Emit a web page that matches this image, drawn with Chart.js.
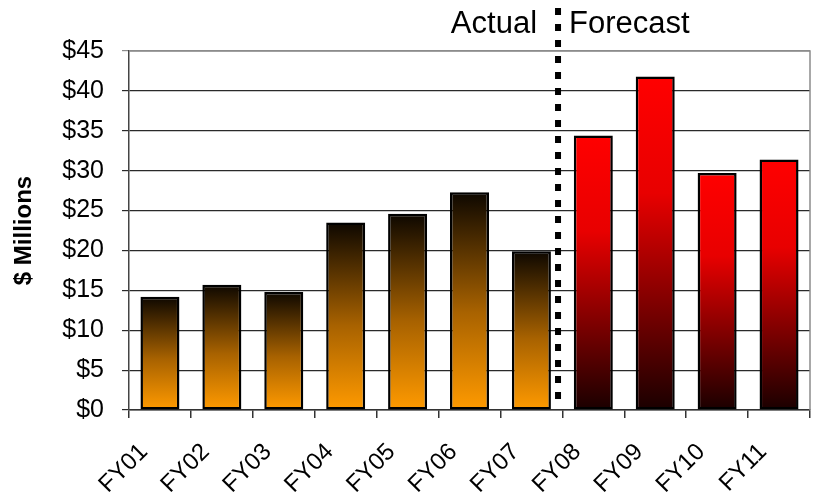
<!DOCTYPE html>
<html>
<head>
<meta charset="utf-8">
<script src="https://cdn.jsdelivr.net/npm/chart.js@4/dist/chart.umd.min.js"></script>
<style>
html,body{margin:0;padding:0;background:#fff;}
#wrap{width:815px;height:495px;position:relative;}
</style>
</head>
<body>
<div id="wrap"><canvas id="c" width="815" height="495"></canvas></div>
<script>
const categories = ['FY01','FY02','FY03','FY04','FY05','FY06','FY07','FY08','FY09','FY10','FY11'];
const values = [14.2, 15.7, 14.8, 23.5, 24.6, 27.3, 19.9, 34.4, 41.8, 29.7, 31.4];
const actualCount = 7;
const yTickLabels = ['$0','$5','$10','$15','$20','$25','$30','$35','$40','$45'];
const yAxisTitle = '$ Millions';
const dividerLabels = ['Actual', 'Forecast'];

const FONT = "'Liberation Sans', Arial, sans-serif";

function barFill(ctx) {
  const chart = ctx.chart;
  const area = chart.chartArea;
  const i = ctx.dataIndex;
  const forecast = i >= actualCount;
  if (!area || ctx.type !== 'data') return forecast ? '#ff0000' : '#ff9900';
  const y = chart.scales.y;
  const top = y.getPixelForValue(values[i]);
  const bot = y.getPixelForValue(0);
  const g = chart.ctx.createLinearGradient(0, top, 0, bot);
  if (forecast) {
    g.addColorStop(0, '#ff0000');
    g.addColorStop(0.35, '#e80000');
    g.addColorStop(1, '#1a0000');
  } else {
    g.addColorStop(0, '#0d0700');
    g.addColorStop(0.55, '#a86200');
    g.addColorStop(1, '#ff9a00');
  }
  return g;
}

const dividerPlugin = {
  id: 'divider',
  afterDatasetsDraw(chart) {
    const {ctx, chartArea, scales} = chart;
    const xs = scales.x;
    const a = xs.getPixelForValue(actualCount - 1);
    const b = xs.getPixelForValue(actualCount);
    const x = a + 0.43 * (b - a);
    ctx.save();
    ctx.strokeStyle = '#8c8c8c';
    ctx.lineWidth = 1.5;
    ctx.beginPath();
    ctx.moveTo(chartArea.left, chartArea.top);
    ctx.lineTo(chartArea.right, chartArea.top);
    ctx.lineTo(chartArea.right, chartArea.bottom);
    ctx.stroke();
    ctx.strokeStyle = '#000';
    ctx.lineWidth = 6;
    ctx.setLineDash([7, 9]);
    ctx.beginPath();
    ctx.moveTo(x, 8);
    ctx.lineTo(x, chartArea.bottom - 4);
    ctx.stroke();
    ctx.setLineDash([]);
    ctx.fillStyle = '#000';
    ctx.font = '31px ' + FONT;
    ctx.textBaseline = 'alphabetic';
    ctx.textAlign = 'right';
    ctx.fillText(dividerLabels[0], x - 21, 33);
    ctx.textAlign = 'left';
    ctx.fillText(dividerLabels[1], x + 11, 33);
    ctx.restore();
  }
};

new Chart(document.getElementById('c'), {
  type: 'bar',
  data: {
    labels: categories,
    datasets: [{
      data: values,
      backgroundColor: barFill,
      borderColor: '#000',
      borderWidth: 2.5,
      borderSkipped: false,
      barPercentage: 0.63,
      categoryPercentage: 1.0
    }]
  },
  options: {
    responsive: false,
    animation: false,
    devicePixelRatio: 1,
    layout: { padding: { top: 51, right: 5, left: 0, bottom: 0 } },
    plugins: { legend: { display: false }, tooltip: { enabled: false } },
    scales: {
      x: {
        offset: true,
        grid: {
          offset: true,
          drawOnChartArea: false,
          drawTicks: true,
          tickLength: 8,
          color: '#333',
          lineWidth: 1.5
        },
        border: { display: true, color: '#333', width: 1.5 },
        ticks: {
          color: '#000',
          font: { family: FONT, size: 24 },
          maxRotation: 45,
          minRotation: 45,
          autoSkip: false,
          padding: 20,
          labelOffset: -16
        },
        afterFit(scale) {
          scale.height = 495 - 410;
          scale.paddingLeft = 0;
          scale.paddingRight = 0;
        }
      },
      y: {
        min: 0,
        max: 45,
        ticks: {
          stepSize: 5,
          color: '#000',
          font: { family: FONT, size: 25 },
          padding: 18,
          callback: (v) => yTickLabels[Math.round(v / 5)]
        },
        grid: {
          color: (c) => (c.tick && c.tick.value === 45) ? '#8c8c8c' : '#2a2a2a',
          lineWidth: 1.2,
          tickLength: 7,
          drawTicks: true
        },
        border: { display: true, color: '#444', width: 1.5 },
        title: {
          display: true,
          text: yAxisTitle,
          color: '#000',
          font: { family: FONT, size: 24, weight: 'bold' },
          padding: { top: 10, bottom: 0 }
        },
        afterFit(scale) { scale.width = 129; }
      }
    }
  },
  plugins: [dividerPlugin]
});
</script>
</body>
</html>
